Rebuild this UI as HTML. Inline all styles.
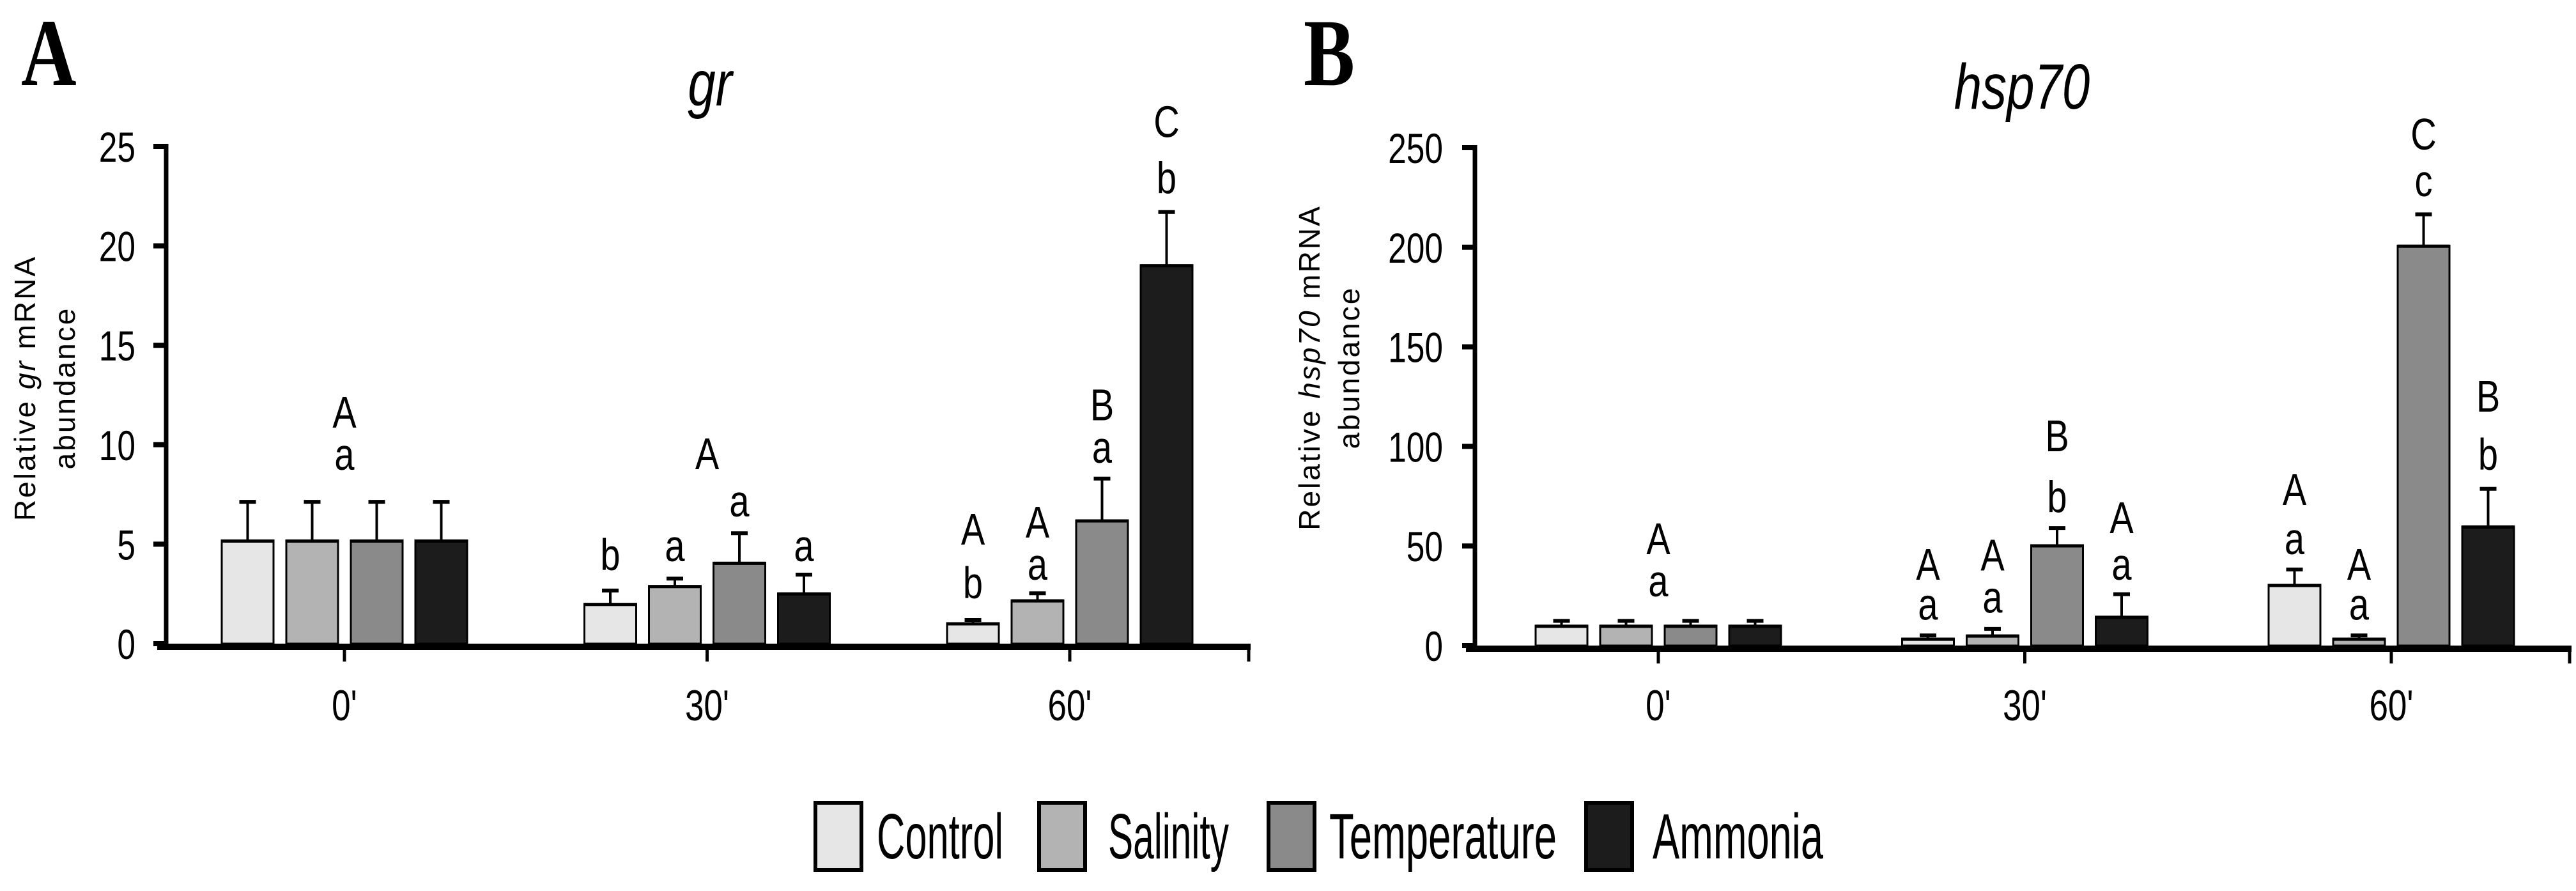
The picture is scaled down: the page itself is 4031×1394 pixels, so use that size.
<!DOCTYPE html>
<html><head><meta charset="utf-8">
<style>
html,body{margin:0;padding:0;background:#fff;}
svg{display:block;}
text{font-family:"Liberation Sans",sans-serif;fill:#000;}
</style></head>
<body>
<svg id="fig" width="4031" height="1394" viewBox="0 0 4031 1394" xmlns="http://www.w3.org/2000/svg">
<text x="33" y="133" font-family="Liberation Serif" font-weight="bold" font-size="150" style="font-family:'Liberation Serif',serif" transform="translate(33,0) scale(0.8,1) translate(-33,0)">A</text>
<text x="2040" y="133" font-weight="bold" font-size="150" style="font-family:'Liberation Serif',serif" transform="translate(2040,0) scale(0.8,1) translate(-2040,0)">B</text>
<g id="panelA"></g>
<g id="panelB"></g>
<g id="legend"></g>
</svg>
<script>
// ---------- data ----------
const categories = ["0'", "30'", "60'"];
const seriesNames = ["Control", "Salinity", "Temperature", "Ammonia"];
const seriesColors = ["#e6e6e6", "#b3b3b3", "#8a8a8a", "#1c1c1c"];

const grTicks = [0, 5, 10, 15, 20, 25];
const grControl = [5.19, 2.0, 1.03];
const grSalinity = [5.19, 2.9, 2.18];
const grTemperature = [5.19, 4.07, 6.2];
const grAmmonia = [5.19, 2.53, 19.03];
const grControlErr = [7.13, 2.67, 1.19];
const grSalinityErr = [7.13, 3.27, 2.53];
const grTemperatureErr = [7.13, 5.55, 8.3];
const grAmmoniaErr = [7.13, 3.47, 21.7];
// annotations: [category, series (-1 = group centre), y value, text]
const grLetters = [
  [0,-1,11.67,"A"],[0,-1,9.55,"a"],
  [1,0,4.5,"b"],[1,1,4.95,"a"],[1,-1,9.58,"A"],[1,2,7.2,"a"],[1,3,4.95,"a"],
  [2,0,5.79,"A"],[2,0,3.09,"b"],[2,1,6.14,"A"],[2,1,4.02,"a"],
  [2,2,12.03,"B"],[2,2,9.9,"a"],[2,3,26.27,"C"],[2,3,23.44,"b"]
];

const hspTicks = [0, 50, 100, 150, 200, 250];
const hspControl = [10.0, 3.5, 30.5];
const hspSalinity = [10.0, 5.1, 3.5];
const hspTemperature = [10.0, 50.4, 200.8];
const hspAmmonia = [10.0, 14.5, 59.8];
const hspControlErr = [12.4, 5.1, 38.2];
const hspSalinityErr = [12.4, 8.4, 5.1];
const hspTemperatureErr = [12.4, 59, 216.5];
const hspAmmoniaErr = [12.4, 25.8, 78.7];
const hspLetters = [
  [0,-1,53.9,"A"],[0,-1,32.7,"a"],
  [1,0,41,"A"],[1,0,21,"a"],[1,1,45.8,"A"],[1,1,24.6,"a"],
  [1,2,105.6,"B"],[1,2,75,"b"],[1,3,64.5,"A"],[1,3,41,"a"],
  [2,0,78.6,"A"],[2,0,53.9,"a"],[2,1,41,"A"],[2,1,21,"a"],
  [2,2,257,"C"],[2,2,233.6,"c"],[2,3,125.5,"B"],[2,3,96.3,"b"]
];

// ---------- drawing ----------
const NS = "http://www.w3.org/2000/svg";
function mk(tag, attrs, parent){
  const e = document.createElementNS(NS, tag);
  for (const k in attrs) e.setAttribute(k, attrs[k]);
  parent.appendChild(e);
  return e;
}
function narrowText(parent, x, y, str, size, anchor, sx, extra){
  const t = mk("text", Object.assign({x:0, y:0, "font-size":size, "text-anchor":anchor,
    transform:`translate(${x},${y}) scale(${sx},1)`}, extra||{}), parent);
  t.textContent = str;
  return t;
}

function drawPanel(g, cfg){
  const yS = v => cfg.y0 - (v / cfg.max) * (cfg.y0 - cfg.yTop);
  const gx = i => cfg.gx0 + i * cfg.gStep;
  const bx = (i, j) => gx(i) + (j - 1.5) * 101;
  const BW = 81;

  // title
  const title = narrowText(g, cfg.titleX, cfg.titleY, cfg.title, 100, "middle", 0.78, {"font-style":"italic"});
  
  

  // y axis title
  const yt = mk("text", {transform:`translate(${cfg.ytx},${cfg.yty}) rotate(-90)`, "font-size":46, "text-anchor":"middle", "letter-spacing":"3"}, g);
  
  
  const ts1 = mk("tspan", {x:0, y:0}, yt);
  ts1.appendChild(document.createTextNode("Relative "));
  const it = mk("tspan", {"font-style":"italic"}, ts1);
  it.textContent = cfg.title;
  ts1.appendChild(document.createTextNode(" mRNA"));
  const ts2 = mk("tspan", {x:0, dy:62}, yt);
  ts2.textContent = "abundance";

  // bars
  const vals = cfg.values, errs = cfg.errs;
  for (let j = 0; j < 4; j++){
    for (let i = 0; i < categories.length; i++){
      const cx = bx(i, j);
      const top = yS(vals[j][i]), etop = yS(errs[j][i]);
      const el = mk("line", {x1:cx, x2:cx, y1:top, y2:etop, stroke:"#000", "stroke-width":4}, g);
      
      
      const cap = mk("line", {x1:cx-13, x2:cx+13, y1:etop, y2:etop, stroke:"#000", "stroke-width":6}, g);
      
      
      const r = mk("rect", {x:cx-BW/2, y:top, width:BW, height:cfg.y0-top, fill:seriesColors[j], stroke:"#000", "stroke-width":3}, g);
      
      
      const tl = mk("line", {x1:cx-BW/2, x2:cx+BW/2, y1:top+1, y2:top+1, stroke:"#000", "stroke-width":5}, g);
      
      
    }
  }

  // axes
  const ya = mk("line", {x1:cfg.ax, x2:cfg.ax, y1:yS(cfg.max)-4, y2:cfg.y0+8, stroke:"#000", "stroke-width":7}, g);
  
  
  const xa = mk("line", {x1:cfg.ax-14, x2:cfg.axEnd, y1:cfg.y0+5, y2:cfg.y0+5, stroke:"#000", "stroke-width":10}, g);
  
  
  const xe = mk("line", {x1:cfg.axEnd-3, x2:cfg.axEnd-3, y1:cfg.y0, y2:cfg.y0+28, stroke:"#000", "stroke-width":5}, g);
  
  

  cfg.ticks.forEach(t => {
    const y = yS(t);
    const tk = mk("line", {x1:cfg.ax-20, x2:cfg.ax, y1:y, y2:y, stroke:"#000", "stroke-width":8}, g);
    
    
    const lb = narrowText(g, cfg.tlx, y + 24, String(t), 66, "end", 0.78);
    
    
  });
  categories.forEach((c, i) => {
    const tk = mk("line", {x1:gx(i), x2:gx(i), y1:cfg.y0, y2:cfg.y0+28, stroke:"#000", "stroke-width":5}, g);
    
    
    const lb = narrowText(g, gx(i), 1127, c, 68, "middle", 0.78);
    
    
  });

  // letters
  cfg.letters.forEach(L => {
    const x = L[1] < 0 ? gx(L[0]) : bx(L[0], L[1]);
    const t = narrowText(g, x, yS(L[2]) + 25, L[3], 70, "middle", 0.8);
    
    
  });
}

drawPanel(document.getElementById("panelA"), {
  title:"gr", titleX:1111, titleY:165, ytx:55, yty:607,
  y0:1007, yTop:229, max:25, ax:260, axEnd:1957, tlx:212,
  gx0:539, gStep:567.5, ticks:grTicks,
  values:[grControl, grSalinity, grTemperature, grAmmonia],
  errs:[grControlErr, grSalinityErr, grTemperatureErr, grAmmoniaErr],
  letters:grLetters
});
drawPanel(document.getElementById("panelB"), {
  title:"hsp70", titleX:3164, titleY:170, ytx:2065, yty:575,
  y0:1010, yTop:231, max:250, ax:2308, axEnd:4024, tlx:2258,
  gx0:2595, gStep:573.5, ticks:hspTicks,
  values:[hspControl, hspSalinity, hspTemperature, hspAmmonia],
  errs:[hspControlErr, hspSalinityErr, hspTemperatureErr, hspAmmoniaErr],
  letters:hspLetters
});

// legend
const lg = document.getElementById("legend");
const boxX = [1276, 1626, 1985, 2482];
const txtX = [1372, 1734, 2080, 2586];
const txtW = [198, 189, 356, 267];
seriesNames.forEach((n, j) => {
  const r = mk("rect", {x:boxX[j], y:1256, width:72, height:105, fill:seriesColors[j], stroke:"#000", "stroke-width":6}, lg);
  
  
  const t = mk("text", {x:txtX[j], y:1343, "font-size":100, textLength:txtW[j], lengthAdjust:"spacingAndGlyphs"}, lg);
  t.textContent = n;
  
  
});
</script>
</body></html>
